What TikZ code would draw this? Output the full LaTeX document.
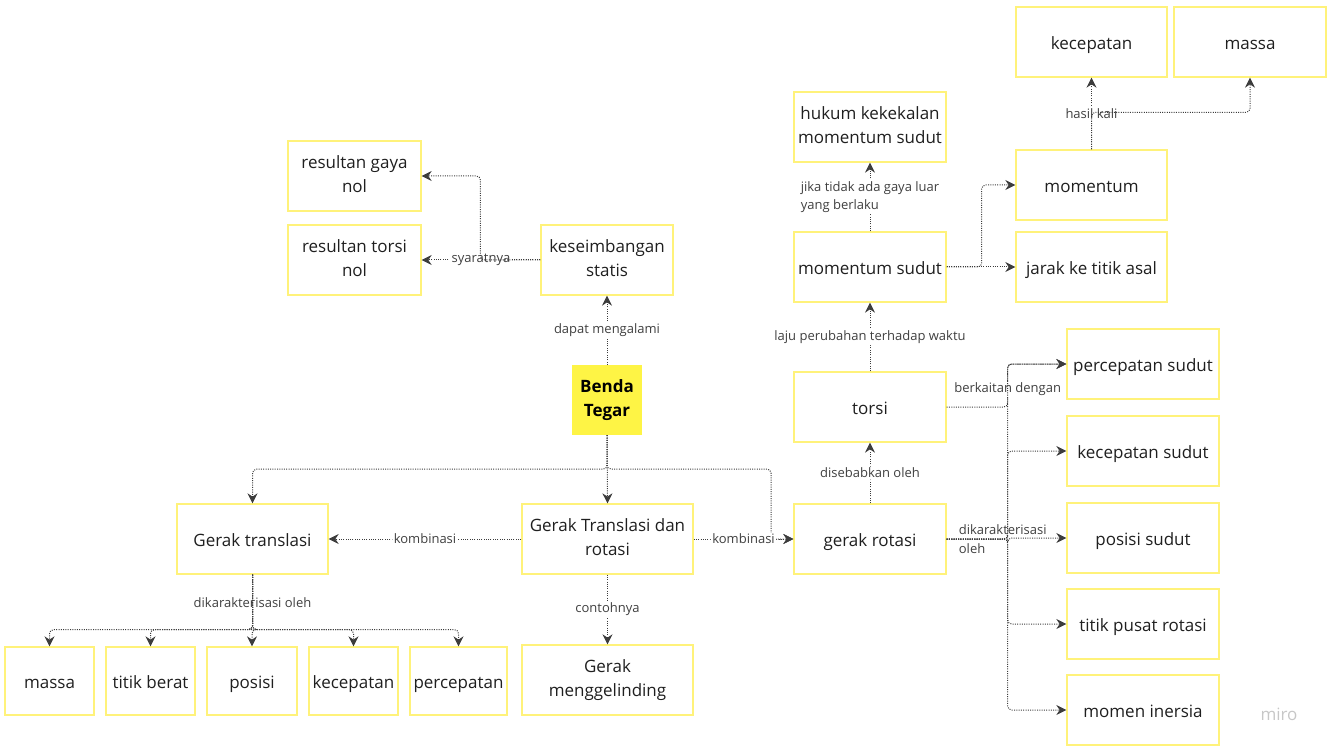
\documentclass[tikz,border=0pt]{standalone}
\usepackage{fontspec}
\setmainfont{Open Sans}
\usetikzlibrary{arrows.meta}
\definecolor{kuning}{HTML}{FFF27A}
\definecolor{kuningisi}{HTML}{FEF445}
\definecolor{garis}{HTML}{3C3C3C}
\newcommand{\tiang}{\rule[-4.2pt]{0pt}{24pt}}
\begin{document}
\begin{tikzpicture}[x=1pt,y=-1pt,
    box/.style={draw=kuning, line width=1.3pt, minimum width=#1, minimum height=70pt,
      inner sep=1pt, align=center, text=black!88, font=\fontsize{17}{24}\selectfont,
      execute at begin node=\tiang, execute at end node=\tiang},
    box/.default=152pt,
    kecil/.style={box=#1, minimum height=68pt},
    link/.style={draw=garis, dash pattern=on 1pt off 1.3pt, line width=1pt, rounded corners=4pt,
      -{Stealth[length=10pt,width=10pt]}},
    lbl/.style={fill=white, inner sep=1.5pt, text=black!75, font=\fontsize{13}{18}\selectfont}]

    \useasboundingbox (0,0) rectangle (1330,751);

    % Pusat
    \node[fill=kuningisi, minimum width=70pt, minimum height=70pt, align=center,
      font=\fontsize{17}{24}\selectfont\bfseries,
      execute at begin node=\tiang, execute at end node=\tiang] (benda) at (607,400) {Benda\\Tegar};

    % Keseimbangan
    \node[box=132pt] (statis) at (607,260) {keseimbangan\\statis};
    \node[box=133pt] (gaya) at (354.5,176) {resultan gaya\\nol};
    \node[box=133pt] (torsinol) at (354.5,260) {resultan torsi\\nol};

    % Tiga jenis gerak
    \node[box=151pt] (translasi) at (252.5,539) {Gerak translasi};
    \node[box=171pt] (gabungan) at (607.5,539) {Gerak Translasi dan\\rotasi};
    \node[box] (rotasi) at (870,539) {gerak rotasi};
    \node[box=171pt] (gling) at (607.5,680) {Gerak\\menggelinding};

    % Baris bawah
    \node[kecil=89pt] (massa) at (49.5,681) {massa};
    \node[kecil=89pt] (berat) at (150.5,681) {titik berat};
    \node[kecil=90pt] (posisi) at (252,681) {posisi};
    \node[kecil=89pt] (kec) at (353.5,681) {kecepatan};
    \node[kecil=97pt] (perc) at (458.5,681) {percepatan};

    % Kolom rotasi
    \node[box] (torsi) at (870,407) {torsi};
    \node[box] (msudut) at (870,267) {momentum sudut};
    \node[box] (hukum) at (870,127) {hukum kekekalan\\momentum sudut};
    \node[box=151pt] (momentum) at (1091.5,185) {momentum};
    \node[box=151pt] (jarak) at (1091.5,267) {jarak ke titik asal};
    \node[box=151pt] (kecatas) at (1091.5,42) {kecepatan};
    \node[box] (massaatas) at (1250,42) {massa};

    % Kolom kanan
    \node[box] (psudut) at (1143,364) {percepatan sudut};
    \node[box] (ksudut) at (1143,451) {kecepatan sudut};
    \node[box] (posudut) at (1143,538) {posisi sudut};
    \node[box] (titik) at (1143,624) {titik pusat rotasi};
    \node[box] (inersia) at (1143,710) {momen inersia};

    \node[text=black!22, font=\fontsize{17}{20}\selectfont] (logo) at (1279,714) {miro};

    % Panah
    \draw[link] (benda) -- node[lbl]{dapat mengalami} (statis);
    \draw[link] (statis) -- node[lbl]{syaratnya} (torsinol);
    \draw[link] (statis.west) -- ++(-60,0) |- (gaya.east);

    \coordinate (cabang) at (771,469);
    \draw[link] (benda.south) -- ++(0,34) -| (translasi.north);
    \draw[link] (benda.south) -- (gabungan.north);
    \draw[link] (benda.south) |- (cabang) |- (rotasi.west);
    \draw[link] (gabungan) -- node[lbl]{kombinasi} (translasi);
    \draw[link] (gabungan) -- node[lbl]{kombinasi} (rotasi);
    \draw[link] (gabungan) -- node[lbl]{contohnya} (gling);

    \draw[link] (translasi.south) -- node[lbl]{dikarakterisasi oleh} ++(0,55) -| (posisi.north);
    \foreach \n in {massa,berat,kec,perc}
      \draw[link] (translasi.south) -- ++(0,55) -| (\n.north);

    \draw[link] (rotasi) -- node[lbl]{disebabkan oleh} (torsi);
    \draw[link] (torsi) -- node[lbl]{laju perubahan terhadap waktu} (msudut);
    \draw[link] (msudut) -- node[lbl, align=left]
      {jika tidak ada gaya luar\\yang berlaku} (hukum);
    \draw[link] (msudut) -- (jarak);
    \draw[link] (msudut.east) -- ++(35,0) |- (momentum.west);
    \draw[link] (momentum) -- node[lbl]{hasil kali} (kecatas);
    \draw[link] (momentum.north) -- ++(0,-37) -| (massaatas.south);

    \draw[link] (torsi.east) -- ++(61,0) node[lbl, above=9pt]{berkaitan dengan} |- (psudut.west);
    \foreach \n in {psudut,ksudut,posudut,titik,inersia}
      \draw[link] (rotasi.east) -- ++(61,0) |- (\n.west);
    \node[anchor=west, align=left, inner sep=0pt, text=black!75,
      font=\fontsize{13}{19}\selectfont] (lblrotasi) at ([xshift=12pt]rotasi.east)
      {dikarakterisasi\\oleh};

\end{tikzpicture}
\end{document}
